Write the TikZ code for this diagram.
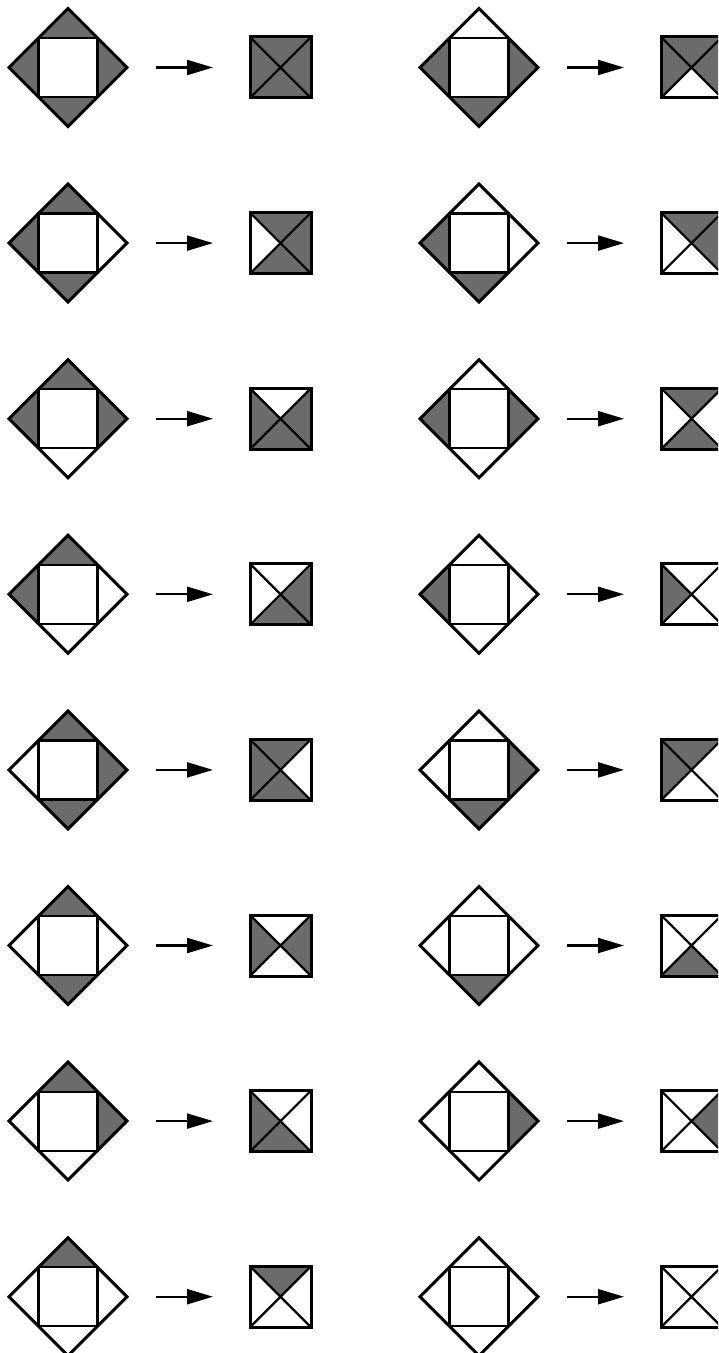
\documentclass[tikz,border=0pt]{standalone}
\usetikzlibrary{arrows.meta}

\definecolor{dk}{gray}{0.42}
\definecolor{lt}{gray}{1}

\tikzset{
  outline/.style={line width=1.5pt, line join=miter},
  inner/.style={line width=1.1pt},
  flow/.style={line width=1.1pt, -{Triangle[length=13pt,width=7.5pt]}},
}

\begin{document}
\begin{tikzpicture}[x=0.5pt, y=-0.5pt]
  \useasboundingbox (0,0) rectangle (718,1353);
  \clip (0,0) rectangle (718,1353);

  % col/row/diamond T L B R/square T L B R
  \foreach \col/\row/\dt/\dl/\db/\dr/\st/\sl/\sb/\sr in {
      0/0/dk/dk/dk/dk/dk/dk/dk/dk,
      0/1/dk/dk/dk/lt/dk/lt/dk/dk,
      0/2/dk/dk/lt/dk/lt/dk/dk/dk,
      0/3/dk/dk/lt/lt/lt/lt/dk/dk,
      0/4/dk/lt/dk/dk/dk/dk/dk/lt,
      0/5/dk/lt/dk/lt/lt/dk/lt/dk,
      0/6/dk/lt/lt/dk/lt/dk/dk/lt,
      0/7/dk/lt/lt/lt/dk/lt/lt/lt,
      1/0/lt/dk/dk/dk/dk/dk/lt/dk,
      1/1/lt/dk/dk/lt/dk/lt/lt/dk,
      1/2/lt/dk/lt/dk/dk/lt/dk/lt,
      1/3/lt/dk/lt/lt/lt/dk/lt/lt,
      1/4/lt/lt/dk/dk/dk/dk/lt/lt,
      1/5/lt/lt/dk/lt/lt/lt/dk/lt,
      1/6/lt/lt/lt/dk/lt/lt/lt/dk,
      1/7/lt/lt/lt/lt/lt/lt/lt/lt}
  {
    \begin{scope}[shift={(68+411*\col, 67.5+175.6*\row)}]
      % diamond with inner square
      \coordinate (d\col\row) at (0,0);
      \fill[\dt] (-29.5,-29.5) -- (0,-59) -- (29.5,-29.5) -- cycle;
      \fill[\dl] (-29.5,-29.5) -- (-59,0) -- (-29.5,29.5) -- cycle;
      \fill[\db] (-29.5,29.5) -- (0,59) -- (29.5,29.5) -- cycle;
      \fill[\dr] (29.5,-29.5) -- (59,0) -- (29.5,29.5) -- cycle;
      \draw[inner] (-29.5,-29.5) rectangle (29.5,29.5);
      \draw[outline] (0,-59) -- (-59,0) -- (0,59) -- (59,0) -- cycle;

      % arrow
      \coordinate (a\col\row) at (88,0);
      \coordinate (b\col\row) at (145,0);
      \draw[flow] (a\col\row) -- (b\col\row);

      % crossed square
      \coordinate (s\col\row) at (212.5,0);
      \fill[\st] (182,-30.5) -- (243,-30.5) -- (s\col\row) -- cycle;
      \fill[\sl] (182,-30.5) -- (182,30.5) -- (s\col\row) -- cycle;
      \fill[\sb] (182,30.5) -- (243,30.5) -- (s\col\row) -- cycle;
      \fill[\sr] (243,-30.5) -- (243,30.5) -- (s\col\row) -- cycle;
      \draw[inner] (182,-30.5) -- (243,30.5) (182,30.5) -- (243,-30.5);
      \draw[outline] (182,-30.5) rectangle (243,30.5);
    \end{scope}
  }
\end{tikzpicture}
\end{document}
